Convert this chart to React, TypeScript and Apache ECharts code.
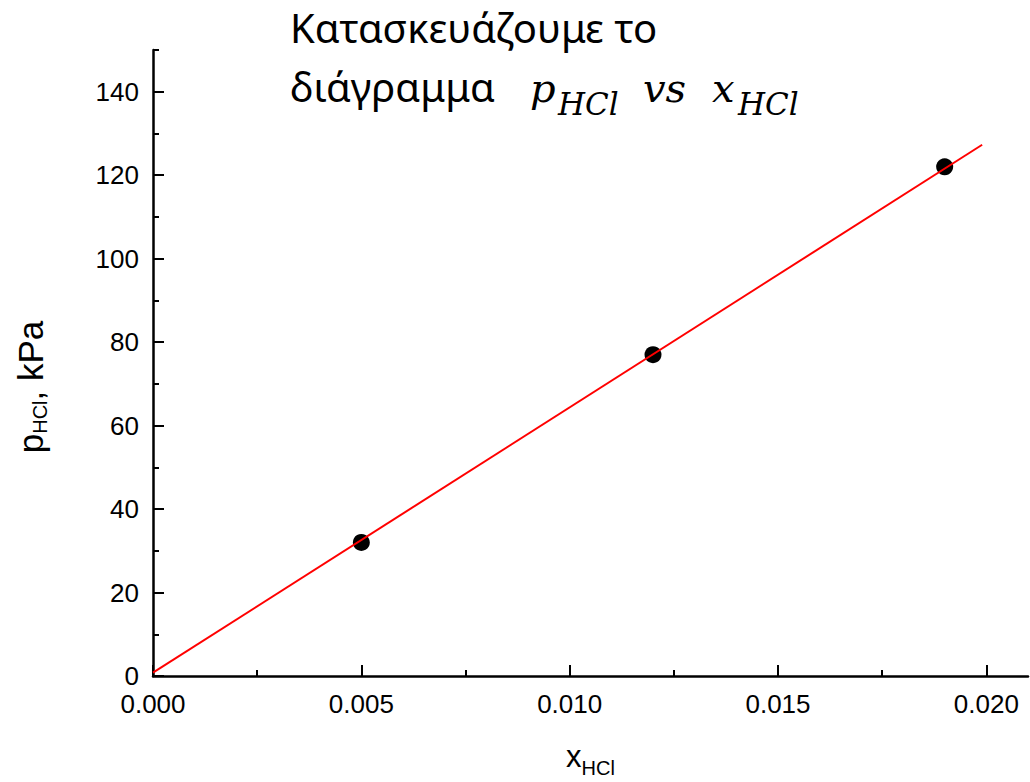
import React, { useEffect, useRef } from "react";
import * as echarts from "echarts";

const xData = [0.005, 0.012, 0.019];
const yData = [32, 77, 122];
const fitX = [0, 0.0199];
const fitY = [0.8, 127.3];
const xMajor = [0, 0.005, 0.01, 0.015, 0.02];
const xMinor = [0.0025, 0.0075, 0.0125, 0.0175];
const yMajor = [0, 20, 40, 60, 80, 100, 120, 140];
const yMinor = [10, 30, 50, 70, 90, 110, 130, 150];
const titleLine1 = "Κατασκευάζουμε το";
const titleLine2 = "διάγραμμα";

const SANS = "'Liberation Sans', Arial, sans-serif";
const TITLE_FONT = "'Noto Sans', sans-serif";
const MATH_FONT = "'DejaVu Serif', 'Liberation Serif', serif";

export default function App() {
  const ref = useRef<HTMLDivElement>(null);
  useEffect(() => {
    document.body.style.margin = "0";
    const chart = echarts.init(ref.current!, null, { renderer: "svg" });
    const axisLine = { show: true, lineStyle: { color: "#000", width: 2.5 } };
    const option: any = {
      animation: false,
      backgroundColor: "#fff",
      grid: { left: 153, right: 2, top: 50, bottom: 106, containLabel: false, outerBoundsMode: "none" },
      xAxis: [
        {
          type: "value",
          min: 0,
          max: 0.021,
          position: "bottom",
          axisLine,
          splitLine: { show: false },
          axisTick: { show: true, inside: true, length: 11, lineStyle: { color: "#000", width: 2 }, customValues: xMajor },
          axisLabel: {
            customValues: xMajor,
            formatter: (v: number) => v.toFixed(3),
            fontFamily: SANS,
            fontSize: 26,
            color: "#000",
            margin: 15,
          },
          name: "{a|x}{b|HCl}",
          nameLocation: "middle",
          nameGap: 58,
          nameTextStyle: {
            rich: {
              a: { fontFamily: SANS, fontSize: 31, color: "#000" },
              b: { fontFamily: SANS, fontSize: 20, color: "#000", padding: [24, 0, 0, 0] },
            },
          },
        },
        {
          type: "value",
          min: 0,
          max: 0.021,
          position: "bottom",
          axisLine: { show: false },
          splitLine: { show: false },
          axisLabel: { show: false },
          axisTick: { show: true, inside: true, length: 6, lineStyle: { color: "#000", width: 2 }, customValues: xMinor },
        },
      ],
      yAxis: [
        {
          type: "value",
          min: 0,
          max: 150,
          position: "left",
          axisLine,
          splitLine: { show: false },
          axisTick: { show: true, inside: true, length: 11, lineStyle: { color: "#000", width: 2 }, customValues: yMajor },
          axisLabel: {
            customValues: yMajor,
            fontFamily: SANS,
            fontSize: 26,
            color: "#000",
            margin: 14,
          },
          name: "{a|p}{b|HCl}{a|, kPa}",
          nameLocation: "middle",
          nameRotate: 90,
          nameGap: 103,
          nameTextStyle: {
            padding: [0, 48, 0, 0],
            rich: {
              a: { fontFamily: SANS, fontSize: 35, color: "#000" },
              b: { fontFamily: SANS, fontSize: 20, color: "#000", padding: [20, 0, 0, 0] },
            },
          },
        },
        {
          type: "value",
          min: 0,
          max: 150,
          position: "left",
          axisLine: { show: false },
          splitLine: { show: false },
          axisLabel: { show: false },
          axisTick: { show: true, inside: true, length: 6, lineStyle: { color: "#000", width: 2 }, customValues: yMinor },
        },
      ],
      series: [
        {
          type: "line",
          xAxisIndex: 0,
          yAxisIndex: 0,
          data: fitX.map((x, i) => [x, fitY[i]]),
          showSymbol: false,
          symbol: "none",
          lineStyle: { color: "#ff0000", width: 2 },
          z: 3,
        },
        {
          type: "scatter",
          xAxisIndex: 0,
          yAxisIndex: 0,
          data: xData.map((x, i) => [x, yData[i]]),
          symbol: "circle",
          symbolSize: 17,
          itemStyle: { color: "#000", opacity: 1 },
          z: 2,
        },
      ],
      graphic: [
        { type: "text", left: 290, top: 7, style: { text: titleLine1, font: `40px ${TITLE_FONT}`, fill: "#000" } },
        { type: "text", left: 290, top: 66, style: { text: titleLine2, font: `40px ${TITLE_FONT}`, fill: "#000" } },
        { type: "text", left: 530, top: 68, style: { text: "p", font: `italic 40px ${MATH_FONT}`, fill: "#000" } },
        { type: "text", left: 558, top: 88, style: { text: "HCl", font: `italic 31px ${MATH_FONT}`, fill: "#000" } },
        { type: "text", left: 643, top: 68, style: { text: "vs", font: `italic 40px ${MATH_FONT}`, fill: "#000" } },
        { type: "text", left: 712, top: 68, style: { text: "x", font: `italic 40px ${MATH_FONT}`, fill: "#000" } },
        { type: "text", left: 738, top: 88, style: { text: "HCl", font: `italic 31px ${MATH_FONT}`, fill: "#000" } },
      ],
    };
    chart.setOption(option);
    return () => chart.dispose();
  }, []);
  return <div ref={ref} style={{ width: 1030, height: 782 }} />;
}
